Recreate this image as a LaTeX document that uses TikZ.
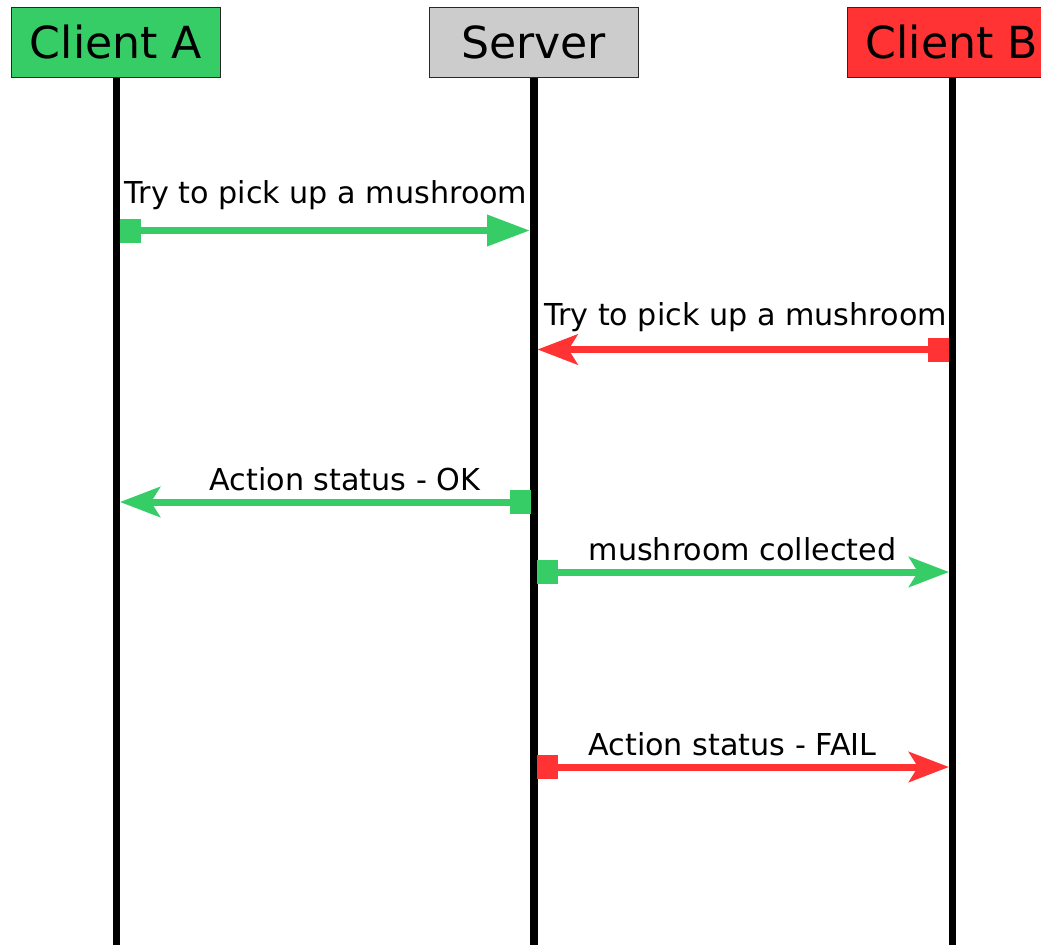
\documentclass[tikz,border=0pt]{standalone}
\usepackage{fontspec}
\setmainfont{DejaVu Sans}
\usetikzlibrary{arrows.meta}
\definecolor{cgreen}{RGB}{54,204,102}
\definecolor{cred}{RGB}{255,51,51}
\definecolor{cgray}{RGB}{204,204,204}
\definecolor{cborder}{RGB}{40,40,40}
\tikzset{
  header/.style={draw=cborder, line width=1pt, minimum width=209pt, minimum height=70pt,
    inner sep=0pt, font=\fontsize{44.2}{50}\selectfont},
  lifeline/.style={line width=7.5pt, black},
  msg/.style={line width=7pt},
  sqbox/.style={rectangle, minimum width=21pt, minimum height=24pt, inner sep=0pt},
  lbl/.style={anchor=base, inner sep=0pt, font=\fontsize{30.2}{34}\selectfont},
  tri/.style={-{Triangle[length=43pt,width=30pt]}},
  stl/.style={-{Stealth[length=40pt,width=30pt,inset=9pt]}}
}
\begin{document}
\begin{tikzpicture}[x=1pt,y=-1pt]
\useasboundingbox (0,0) rectangle (1041,945);
\clip (0,0) rectangle (1041,945);
% headers
\node[header, fill=cgreen] (A) at (116,42) {Client A};
\node[header, fill=cgray] (S) at (533.5,42) {Server};
\node[header, fill=cred] (B) at (952,42) {Client B};
% lifelines
\coordinate (Aend) at (116.5,945);
\coordinate (Send) at (534,945);
\coordinate (Bend) at (952.5,945);
\draw[lifeline] (A.south -| Aend) -- (Aend);
\draw[lifeline] (S.south -| Send) -- (Send);
\draw[lifeline] (B.south -| Bend) -- (Bend);
% message 1: A -> Server
\node[sqbox, fill=cgreen] (q1) at (130.5,230.5) {};
\coordinate (t1) at (530,230.5);
\draw[msg, cgreen, tri] (q1.center) -- (t1);
\node[lbl] (l1) at (326,203) {Try to pick up a mushroom};
% message 2: B -> Server
\node[sqbox, fill=cred] (q2) at (938,349.5) {};
\coordinate (t2) at (537.5,349.5);
\draw[msg, cred, stl] (q2.center) -- (t2);
\node[lbl] (l2) at (745.5,325) {Try to pick up a mushroom};
% message 3: Server -> A
\node[sqbox, fill=cgreen] (q3) at (520,502) {};
\coordinate (t3) at (120,502);
\draw[msg, cgreen, stl] (q3.center) -- (t3);
\node[lbl] (l3) at (345,490) {Action status - OK};
% message 4: Server -> B
\node[sqbox, fill=cgreen] (q4) at (547.5,572) {};
\coordinate (t4) at (949,572);
\draw[msg, cgreen, stl] (q4.center) -- (t4);
\node[lbl] (l4) at (742.5,560) {mushroom collected};
% message 5: Server -> B
\node[sqbox, fill=cred] (q5) at (547.5,767) {};
\coordinate (t5) at (949,767);
\draw[msg, cred, stl] (q5.center) -- (t5);
\node[lbl] (l5) at (732.5,755.5) {Action status - FAIL};
\end{tikzpicture}
\end{document}
